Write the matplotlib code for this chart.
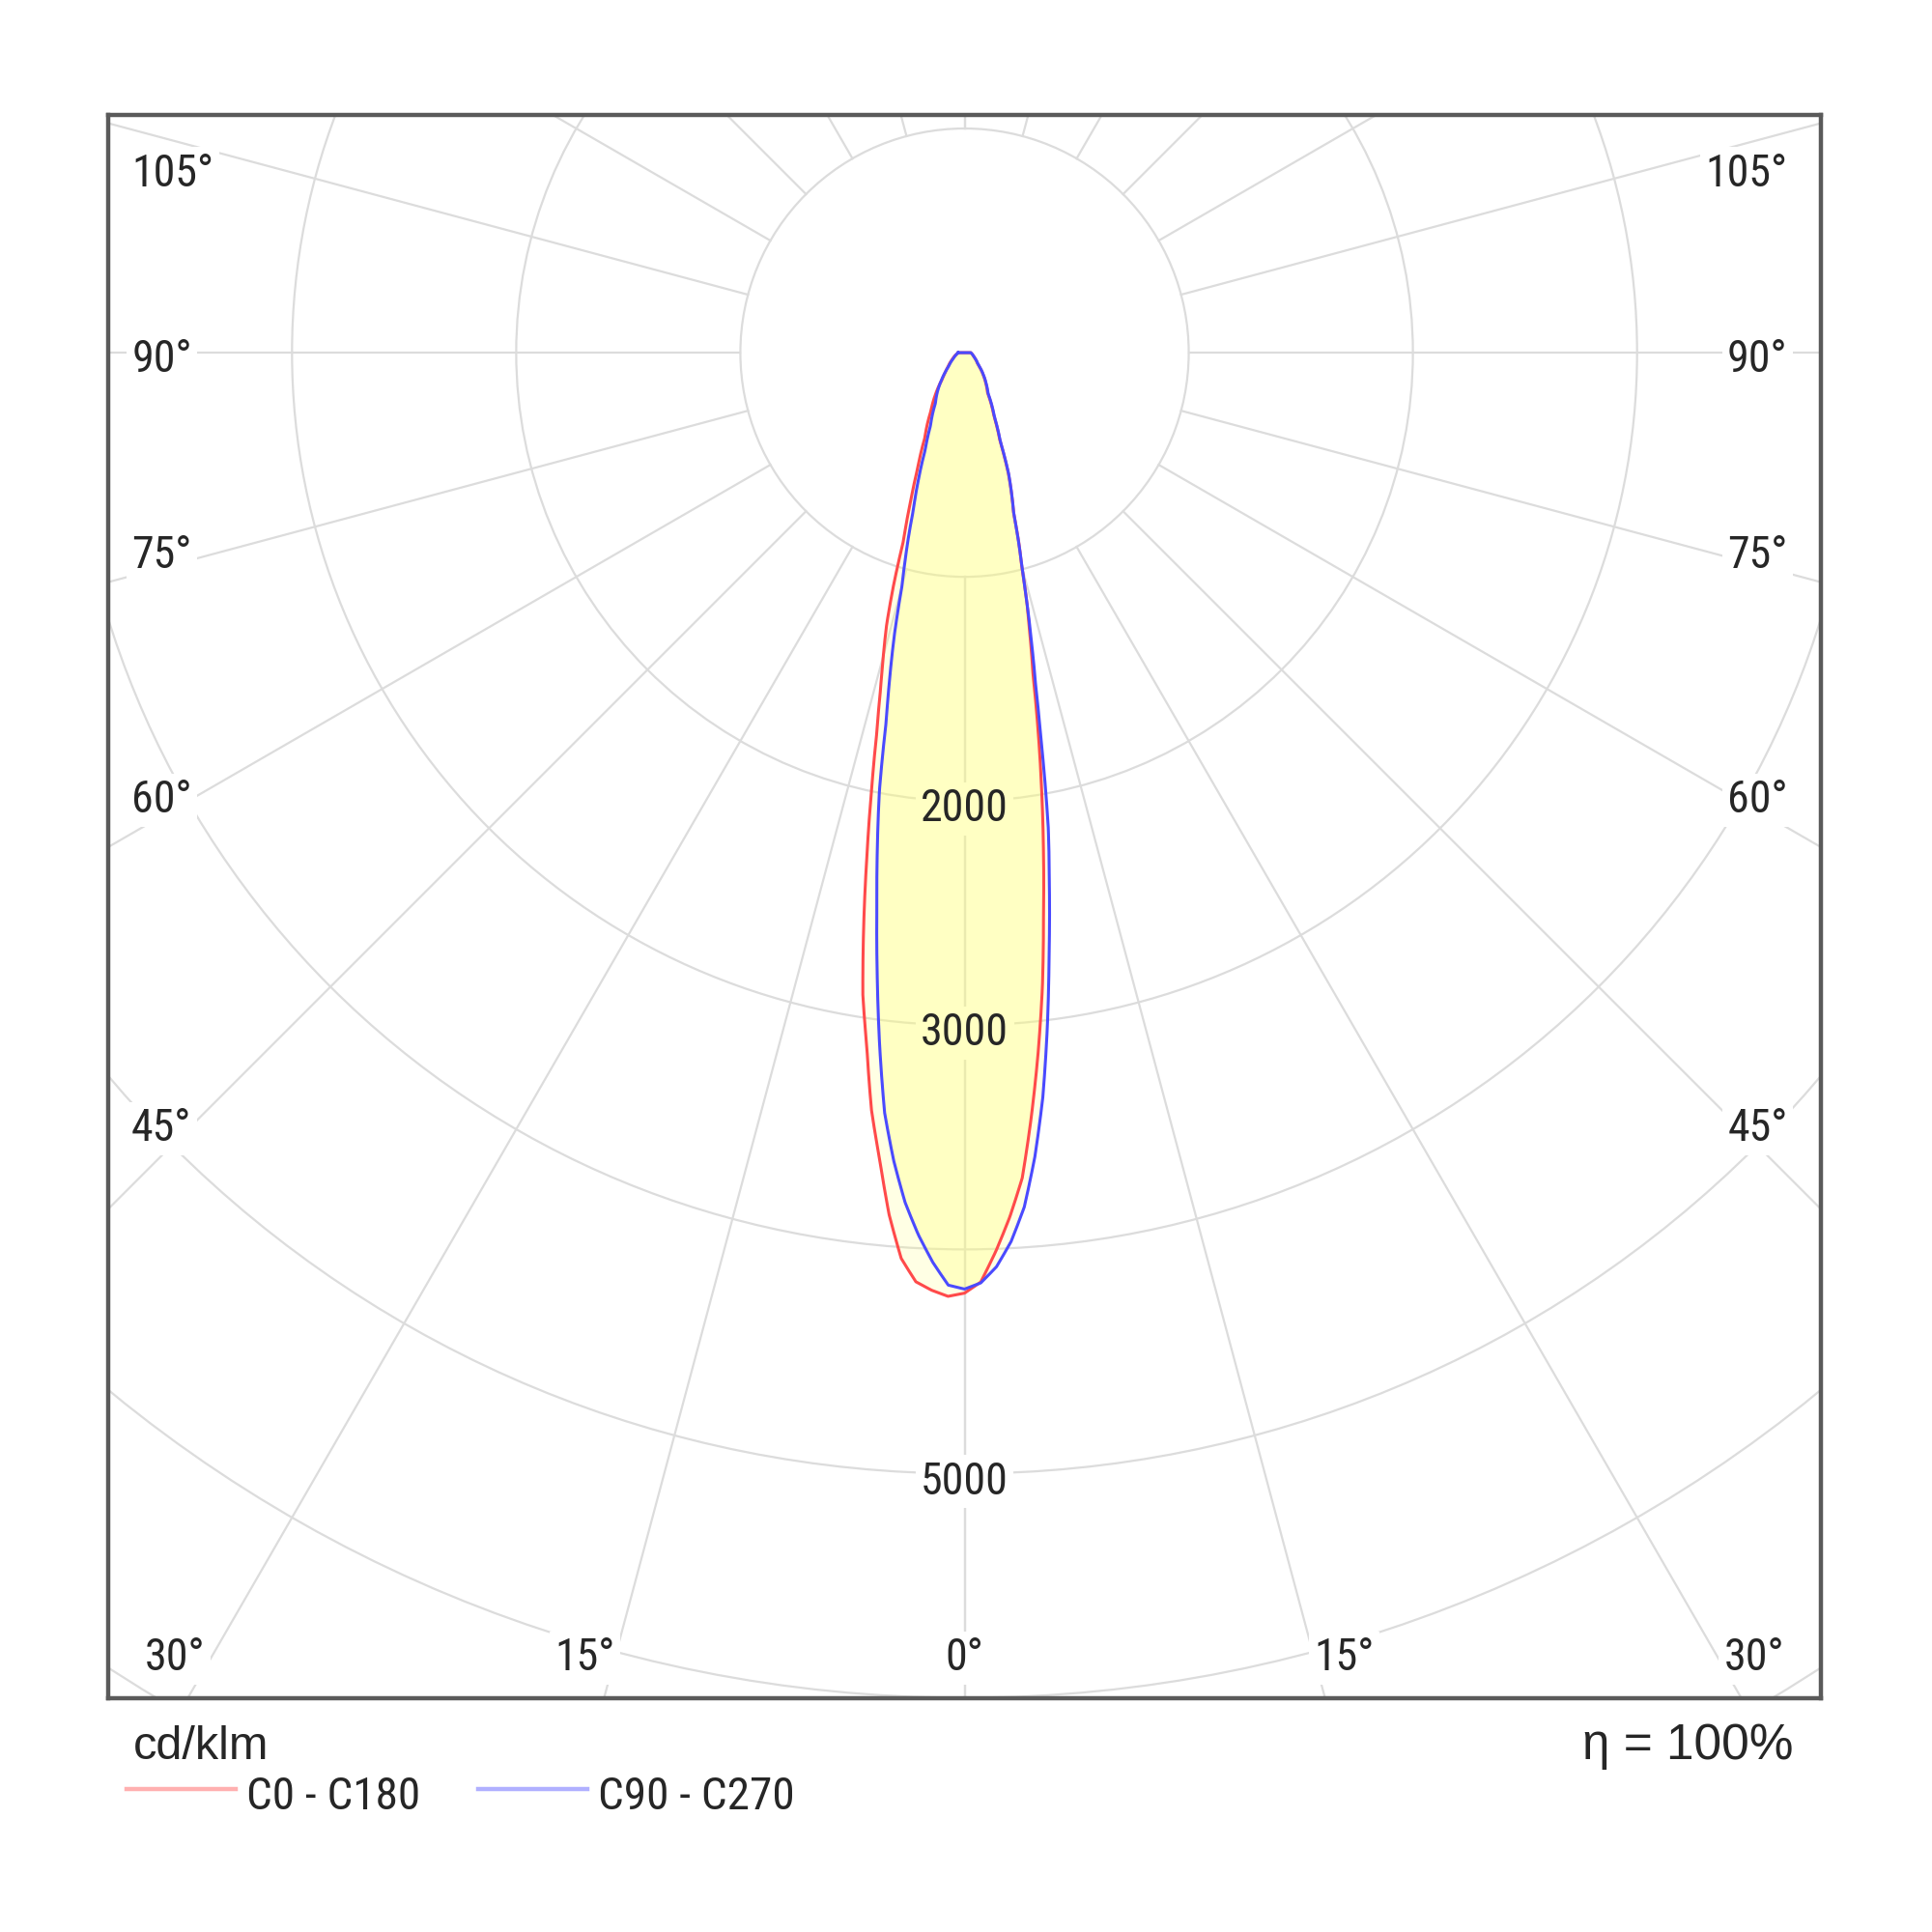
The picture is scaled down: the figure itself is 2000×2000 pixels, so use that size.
import numpy as np
import matplotlib
matplotlib.use("Agg")
import matplotlib.pyplot as plt
from matplotlib import font_manager
from matplotlib.patches import Circle
from matplotlib.lines import Line2D

# luminous intensity in cd/klm, gamma measured from nadir
GAMMA = [0, 1, 2, 3, 4, 5, 6, 7, 8, 9, 10, 11, 12, 13, 14, 15, 16, 17, 18,
         20, 22, 25, 30, 35, 40, 45, 50, 60, 70, 80, 90]
C0 = [4195, 4146, 4010, 3860, 3690, 3420, 3140, 2850, 2530, 2250, 1980, 1720, 1470,
      1300, 1150, 985, 875, 750, 690, 570, 420, 310, 205, 165, 130, 100, 75, 55, 42, 34, 28]
C180 = [4195, 4210, 4185, 4150, 4050, 3860, 3620, 3405, 3130, 2900, 2590, 2280, 1995,
        1740, 1550, 1400, 1260, 1080, 880, 700, 560, 420, 300, 225, 155, 120, 95, 65, 48, 36, 28]
C90 = [4177, 4150, 4080, 3970, 3820, 3600, 3340, 3030, 2710, 2420, 2150, 1820, 1530,
       1330, 1150, 990, 870, 750, 690, 575, 425, 315, 210, 168, 132, 102, 77, 56, 42, 34, 28]
C270 = [4177, 4160, 4060, 3940, 3800, 3620, 3410, 3110, 2800, 2500, 2240, 1990, 1680,
        1480, 1290, 1080, 960, 850, 740, 600, 470, 360, 260, 210, 160, 120, 90, 62, 46, 35, 28]

RINGS = [1000, 2000, 3000, 4000, 5000, 6000, 7000]
RING_LABELS = [2000, 3000, 5000]
SPOKES = list(range(0, 181, 15))
ANGLE_LABELS = [0, 15, 30, 45, 60, 75, 90, 105]

GRID = "#dcdcdc"
TEXT = "#262626"

# narrow sans for the chart labels, first one that is installed
installed = {f.name for f in font_manager.fontManager.ttflist}
NARROW = next((n for n in ["Liberation Sans Narrow", "Arial Narrow", "Roboto Condensed",
                           "PT Sans Narrow", "Archivo Narrow", "Liberation Sans"]
               if n in installed), "DejaVu Sans")
plt.rcParams["font.family"] = [NARROW, "DejaVu Sans"]
WIDE = ["Liberation Sans", "DejaVu Sans"]


def half_curves(left, right):
    """Polar curve from left 90 deg over nadir to right 90 deg (closed)."""
    g = np.linspace(0, 90, 1801)
    rl = np.interp(g, GAMMA, left)
    rr = np.interp(g, GAMMA, right)
    theta = np.radians(np.concatenate([-g[::-1], g[1:], [-90.0]]))
    r = np.concatenate([rl[::-1], rr[1:], [rl[-1]]])
    return theta, r


def to_xy(theta, r):
    return r * np.sin(theta), -r * np.cos(theta)


def label_pos(g, side):
    a = g + 1.3 if 0 < g < 90 else (g - 2 if g > 90 else g)
    a = np.radians(a)
    dx, dy = side * np.sin(a), -np.cos(a)
    tx = 3590 / abs(dx) if abs(dx) > 1e-9 else np.inf
    ty = 5793 / abs(dy) if dy < -1e-9 else np.inf
    t = min(tx, ty)
    return t * dx, t * dy, tx <= ty


fig = plt.figure(figsize=(10, 10), dpi=200)
ax = fig.add_axes([0.056, 0.1212, 0.8865, 0.8193])
ax.set_xlim(-3820, 3820)
ax.set_ylim(-6000, 1060)
ax.set_aspect("equal", adjustable="box")
ax.set_xticks([])
ax.set_yticks([])
for sp in ax.spines.values():
    sp.set_color("#5a5a5a")
    sp.set_linewidth(1.6)

# grid
for r in RINGS:
    ax.add_patch(Circle((0, 0), r, fill=False, ec=GRID, lw=0.8, zorder=1))
for g in SPOKES:
    for side in (-1, 1):
        a = np.radians(g)
        ax.plot([side * 1000 * np.sin(a), side * 9000 * np.sin(a)],
                [-1000 * np.cos(a), -9000 * np.cos(a)], color=GRID, lw=0.8, zorder=1)

# angle labels
for g in ANGLE_LABELS:
    sides = (1,) if g == 0 else (-1, 1)
    for side in sides:
        x, y, on_side = label_pos(g, side)
        if on_side:
            ha = "left" if side < 0 else "right"
            x = -3716 if side < 0 else 3672
        else:
            ha = "center"
        ax.text(x, y - 30, f"{g}°", ha=ha, va="center", fontsize=16.5, color=TEXT, zorder=6,
                bbox=dict(fc="white", ec="none", pad=2))

# radius labels: white box under the fill, text on top
for r in RING_LABELS:
    ax.text(0, -r - 35, str(r), ha="center", va="center", fontsize=16.5, color="none",
            zorder=2, bbox=dict(fc="white", ec="none", pad=2))
    ax.text(0, -r - 35, str(r), ha="center", va="center", fontsize=16.5, color=TEXT, zorder=6)

# curves
th, r_red = half_curves(C180, C0)
_, r_blue = half_curves(C270, C90)
ax.fill(*to_xy(th, np.maximum(r_red, r_blue)), color="#ffff78", alpha=0.2, lw=0, zorder=3)
ax.fill(*to_xy(th, np.minimum(r_red, r_blue)), color="#ffff78", alpha=0.3, lw=0, zorder=3)
ax.plot(*to_xy(th, r_red), color="#ff4a4a", lw=1.1, zorder=4)
ax.plot(*to_xy(th, r_blue), color="#4a4aff", lw=1.1, zorder=4)

# legend and captions
fig.add_artist(Line2D([0.0655, 0.122], [0.074, 0.074], color="#ffb0b0", lw=1.6))
fig.text(0.1275, 0.0635, "C0 - C180", fontsize=17, color=TEXT, va="baseline")
fig.add_artist(Line2D([0.2475, 0.304], [0.074, 0.074], color="#b0b0ff", lw=1.6))
fig.text(0.3095, 0.0635, "C90 - C270", fontsize=17, color=TEXT, va="baseline")
fig.text(0.069, 0.0895, "cd/klm", fontsize=17.5, color=TEXT, va="baseline", family=WIDE)
fig.text(0.928, 0.0895, "η = 100%", fontsize=18.5, color=TEXT, va="baseline", ha="right",
         family=WIDE)

fig.savefig("out.png", dpi=200, facecolor="white")
